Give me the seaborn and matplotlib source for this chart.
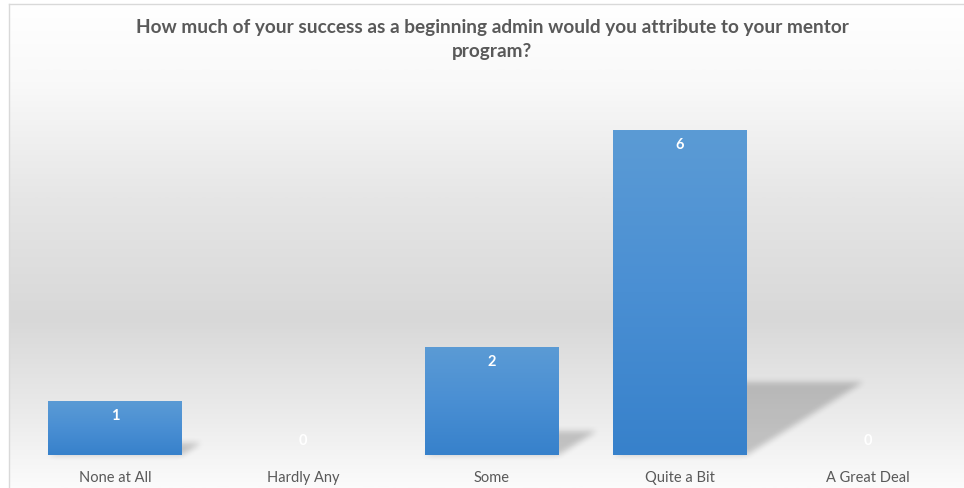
import numpy as np
import pandas as pd
import matplotlib
matplotlib.use("Agg")
import matplotlib.pyplot as plt
import seaborn as sns
from matplotlib.colors import LinearSegmentedColormap
from matplotlib.path import Path

categories = ["None at All", "Hardly Any", "Some", "Quite a Bit", "A Great Deal"]
counts = [1, 0, 2, 6, 0]
title = ("How much of your success as a beginning admin would you attribute to your mentor\n"
         "program?")

sns.set_theme(style="white")
plt.rcParams["font.family"] = ["Lato", "DejaVu Sans"]

W, H = 964, 488
DPI = 100
fig = plt.figure(figsize=(W / DPI, H / DPI), dpi=DPI)
fig.patch.set_facecolor("white")

# Chart panel: vertical grey gradient with a faint frame on the left and top
panel = fig.add_axes([9 / W, 0, 1 - 9 / W, 1 - 4 / H], zorder=0)
bg_cmap = LinearSegmentedColormap.from_list(
    "panel",
    [(0.00, "#ffffff"), (0.16, "#f9f9f9"), (0.40, "#e6e6e6"),
     (0.65, "#d8d8d8"), (0.86, "#ececec"), (1.00, "#fbfbfb")])
panel.imshow(np.linspace(0, 1, 400)[:, None], aspect="auto", cmap=bg_cmap,
             extent=[0, 1, 0, 1], origin="upper", vmin=0, vmax=1)
panel.set_xlim(0, 1)
panel.set_ylim(0, 1)
panel.set_xticks([])
panel.set_yticks([])
for side in ("right", "bottom"):
    panel.spines[side].set_visible(False)
for side in ("left", "top"):
    panel.spines[side].set_color("#d9d9d9")
    panel.spines[side].set_linewidth(1.0)

# Layer for soft drop shadows
shadow_ax = fig.add_axes([0, 0, 1, 1], zorder=1)
shadow_ax.set_axis_off()

# Bar chart
ax = fig.add_axes([21 / W, 33 / H, 941 / W, 379 / H], zorder=2)
ax.set_facecolor("none")
df = pd.DataFrame({"category": categories, "count": counts})
sns.barplot(data=df, x="category", y="count", ax=ax, color="#4a8fd4",
            saturation=1, width=0.71, edgecolor="none", linewidth=0)
ax.set_ylim(0, 7)
ax.set_xlim(-0.5, len(categories) - 0.5)
ax.set_xlabel("")
ax.set_ylabel("")
ax.set_yticks([])
ax.tick_params(axis="x", length=0, pad=11.5, labelsize=10.5, labelcolor="#595959")
for s in ax.spines.values():
    s.set_visible(False)

# Bar fills: light blue at the top fading to a deeper blue at the bottom
bar_cmap = LinearSegmentedColormap.from_list("bar", ["#5b9bd5", "#4a8fd3", "#3781cb"])
grad = np.linspace(0, 1, 256)[:, None]
for patch in ax.patches:
    h = patch.get_height()
    if h <= 0:
        continue
    x0 = patch.get_x()
    x1 = x0 + patch.get_width()
    patch.set_facecolor("none")
    im = ax.imshow(grad, aspect="auto", cmap=bar_cmap, origin="upper",
                   extent=[x0, x1, 0, h], zorder=3)
    im.set_clip_path(patch)
ax.set_xlim(-0.5, len(categories) - 0.5)
ax.set_ylim(0, 7)

# Perspective shadows cast to the right of each bar
fig.canvas.draw()
yy, xx = np.mgrid[0:H, 0:W]
pts = np.column_stack([xx.ravel() + 0.5, (H - yy.ravel() - 0.5)])
alpha = np.zeros(H * W)
for patch in ax.patches:
    h = patch.get_height()
    if h <= 0:
        continue
    x0 = patch.get_x()
    x1 = x0 + patch.get_width()
    (px0, py0), (px1, py1) = ax.transData.transform([(x0, 0), (x1, h)])
    hp = py1 - py0
    dx, dy = 0.36 * hp, 0.225 * hp
    poly = Path([(px0, py0), (px1, py0), (px1 + dx, py0 + dy),
                 (px0 + dx, py0 + dy), (px0, py0)])
    alpha = np.maximum(alpha, poly.contains_points(pts).astype(float))
alpha = alpha.reshape(H, W)
k = np.ones(7) / 7.0
for _ in range(2):
    alpha = np.apply_along_axis(lambda r: np.convolve(r, k, mode="same"), 1, alpha)
    alpha = np.apply_along_axis(lambda c: np.convolve(c, k, mode="same"), 0, alpha)
shadow_rgba = np.zeros((H, W, 4))
shadow_rgba[..., 3] = alpha * 0.20
shadow_ax.imshow(shadow_rgba, extent=[0, 1, 0, 1], aspect="auto",
                 origin="upper", interpolation="bilinear")
shadow_ax.set_xlim(0, 1)
shadow_ax.set_ylim(0, 1)

# Value labels inside the top of each bar
for i, v in enumerate(counts):
    off = -15 if v > 0 else 14
    ax.annotate(f"{v}", xy=(i, v), xytext=(0, off), textcoords="offset pixels",
                ha="center", va="center", color="white", fontsize=10.5,
                fontweight="bold", zorder=5)

fig.text(492 / W, 1 - 39.5 / H, title, ha="center", va="center", fontsize=13.7,
         fontweight="bold", color="#595959", linespacing=1.55)

fig.savefig("out.png", dpi=DPI, facecolor="white")
